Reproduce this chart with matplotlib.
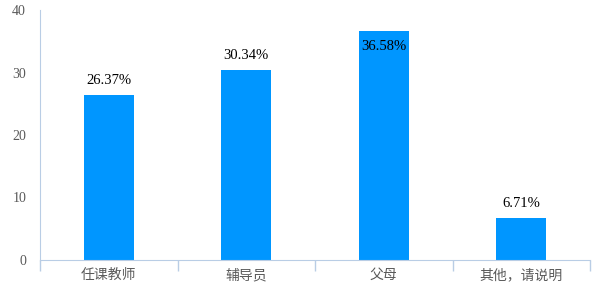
import matplotlib
matplotlib.use("Agg")
import matplotlib.pyplot as plt

# 数据
categories = ["任课教师", "辅导员", "父母", "其他，请说明"]
values = [26.37, 30.34, 36.58, 6.71]
labels = ["26.37%", "30.34%", "36.58%", "6.71%"]

bar_color = "#0096FF"
axis_color = "#B9CDE5"
text_color = "#595959"

fig = plt.figure(figsize=(6, 3), dpi=100)
ax = fig.add_axes([40/600, 40/300, 550/600, 250/300])

x = range(len(categories))
ax.bar(x, values, width=0.364, color=bar_color, zorder=2)

for i, (v, lab) in enumerate(zip(values, labels)):
    # le dernier label qui dépasse passe dans la barre
    if v > 34:
        ax.text(i, v - 2.4, lab, ha="center", va="center", fontsize=10.5,
                family="Liberation Serif", color="#000000", zorder=3)
    else:
        ax.text(i, v + 2.4, lab, ha="center", va="center", fontsize=10.5,
                family="Liberation Serif", color="#000000", zorder=3)

ax.set_xlim(-0.5, 3.5)
ax.set_ylim(0, 40)
ax.set_yticks([0, 10, 20, 30, 40])
for t in ax.set_yticklabels(["0", "10", "20", "30", "40"]):
    t.set_family("Liberation Serif")
    t.set_fontsize(10)
    t.set_color(text_color)
ax.tick_params(axis="y", length=0, pad=10)

ax.set_xticks([0, 1, 2, 3])
ax.set_xticklabels(categories, fontsize=10, color=text_color,
                   family=["Noto Sans CJK SC", "DejaVu Sans"])
ax.set_xticks([-0.5, 0.5, 1.5, 2.5, 3.5], minor=True)
ax.tick_params(axis="x", which="major", length=0, pad=6)
ax.tick_params(axis="x", which="minor", length=8, color=axis_color, width=1)

for s in ["top", "right"]:
    ax.spines[s].set_visible(False)
ax.spines["left"].set_color(axis_color)
ax.spines["bottom"].set_color(axis_color)

fig.savefig("out.png", dpi=100)
